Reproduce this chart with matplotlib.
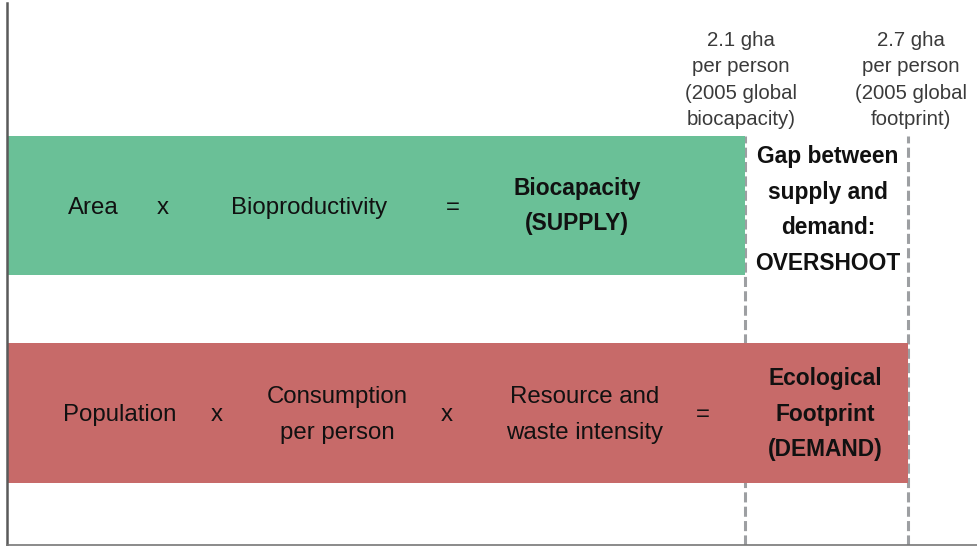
import matplotlib
matplotlib.use("Agg")
import matplotlib.pyplot as plt

# ---- data ----
rows = ["Biocapacity (SUPPLY)", "Ecological Footprint (DEMAND)"]
row_pos = [1, 0]
values_gha = [2.1, 2.7]          # gha per person, 2005
bar_colors = ["#6ac097", "#c76a69"]
top_labels = ["2.1 gha\nper person\n(2005 global\nbiocapacity)",
              "2.7 gha\nper person\n(2005 global\nfootprint)"]
supply_terms = ["Area", "x", "Bioproductivity", "=", "Biocapacity\n(SUPPLY)"]
demand_terms = ["Population", "x", "Consumption\nper person", "x",
                "Resource and\nwaste intensity", "=", "Ecological\nFootprint\n(DEMAND)"]
gap_label = "Gap between\nsupply and\ndemand:\nOVERSHOOT"

# ---- layout ----
W, H = 977, 546
DPI = 100
plt.rcParams['font.family'] = ['Liberation Sans', 'DejaVu Sans']
fig = plt.figure(figsize=(W / DPI, H / DPI), dpi=DPI)
ax_l, ax_r, ax_t, ax_b = 7, 977, 3, 545
ax = fig.add_axes([ax_l / W, (H - ax_b) / H, (ax_r - ax_l) / W, (ax_b - ax_t) / H])

xmin, xmax = -0.6165, 2.954
ymin, ymax = -0.636, 1.976
ax.set_xlim(xmin, xmax)
ax.set_ylim(ymin, ymax)
bar_h = 0.672

for y, v, c in zip(row_pos, values_gha, bar_colors):
    ax.barh(y, v - xmin, left=xmin, height=bar_h, color=c, edgecolor='none', zorder=2)

ax.vlines(values_gha, ymin, row_pos[0] + bar_h / 2, colors="#9d9fa2", linewidth=2.2,
          linestyles=(0, (3.3, 1.4)), zorder=1)

for s in ["top", "right"]:
    ax.spines[s].set_visible(False)
ax.spines["left"].set_color("#5a5a5a")
ax.spines["left"].set_linewidth(1.8)
ax.spines["bottom"].set_color("#777777")
ax.spines["bottom"].set_linewidth(1.2)
ax.set_xticks([])
ax.set_yticks([])


def ftext(px, py, s, **kw):
    fig.text(px / W, 1 - py / H, s, ha='center', va='center', **kw)


reg = dict(fontsize=17.3, color="#111111", linespacing=1.78)
bold = dict(fontsize=16.4, color="#111111", fontweight='bold', linespacing=1.69)

# top labels
for px, s in zip([741, 911], top_labels):
    ftext(px, 80, s, fontsize=14.7, color="#3a3a3a", linespacing=1.48)

# supply row
sup_x = [93, 163, 309, 453, 577]
for i, (px, s) in enumerate(zip(sup_x, supply_terms)):
    ftext(px, 208 if i < 4 else 206, s, **(bold if i == 4 else reg))

# demand row
dem_x = [120, 217, 337, 447, 585, 703, 825]
for i, (px, s) in enumerate(zip(dem_x, demand_terms)):
    ftext(px, 415 if i != 6 else 414, s, **(bold if i == 6 else reg))

ftext(828, 210, gap_label, **bold)

fig.savefig("out.png", dpi=DPI)
